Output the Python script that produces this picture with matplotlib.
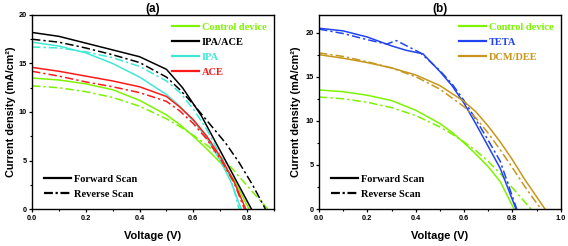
import matplotlib
matplotlib.use("Agg")
import matplotlib.pyplot as plt
from matplotlib.lines import Line2D
from matplotlib.ticker import MultipleLocator

plt.rcParams['font.family'] = ['Liberation Sans', 'DejaVu Sans']

# ---------------- Data (a) ----------------
ctrl_fwd_v = [0, 0.1, 0.2, 0.3, 0.4, 0.5, 0.55, 0.6, 0.65, 0.7, 0.75, 0.807]
ctrl_fwd_j = [13.5, 13.3, 12.9, 12.3, 11.2, 9.7, 8.7, 7.5, 6.2, 4.8, 3.1, 0.0]
ctrl_rev_v = [0, 0.1, 0.2, 0.3, 0.4, 0.5, 0.55, 0.6, 0.65, 0.7, 0.75, 0.8, 0.877]
ctrl_rev_j = [12.7, 12.5, 12.1, 11.5, 10.6, 9.3, 8.5, 7.6, 6.6, 5.4, 4.0, 2.4, 0.0]

ipaace_fwd_v = [0, 0.1, 0.2, 0.3, 0.4, 0.5, 0.56, 0.63, 0.7, 0.76, 0.816]
ipaace_fwd_j = [18.2, 17.8, 17.1, 16.4, 15.7, 14.4, 12.5, 9.6, 6.0, 2.9, 0.0]
ipaace_rev_v = [0, 0.1, 0.2, 0.3, 0.4, 0.5, 0.55, 0.6, 0.66, 0.72, 0.77, 0.82, 0.868]
ipaace_rev_j = [17.5, 17.2, 16.6, 15.9, 15.1, 13.6, 12.3, 10.8, 8.8, 6.8, 4.8, 2.5, 0.0]

ipa_fwd_v = [0, 0.1, 0.2, 0.3, 0.4, 0.5, 0.55, 0.6, 0.65, 0.7, 0.74, 0.778]
ipa_fwd_j = [17.2, 16.8, 16.1, 15.0, 13.6, 11.8, 10.6, 9.1, 7.3, 5.0, 2.8, 0.0]
ipa_rev_v = [0, 0.1, 0.2, 0.3, 0.4, 0.5, 0.55, 0.6, 0.65, 0.7, 0.74, 0.77]
ipa_rev_j = [16.7, 16.6, 16.2, 15.6, 14.7, 13.2, 12.0, 10.3, 8.2, 5.6, 3.2, 0.0]

ace_fwd_v = [0, 0.1, 0.2, 0.3, 0.4, 0.5, 0.55, 0.6, 0.65, 0.7, 0.75, 0.795]
ace_fwd_j = [14.6, 14.2, 13.7, 13.2, 12.6, 11.6, 10.5, 9.2, 7.5, 5.4, 2.9, 0.0]
ace_rev_v = [0, 0.1, 0.2, 0.3, 0.4, 0.5, 0.55, 0.6, 0.65, 0.7, 0.75, 0.79]
ace_rev_j = [14.2, 13.7, 13.1, 12.6, 12.0, 11.1, 10.1, 8.8, 7.2, 5.2, 2.8, 0.0]

# ---------------- Data (b) ----------------
teta_fwd_v = [0, 0.1, 0.2, 0.3, 0.36, 0.43, 0.5, 0.55, 0.6, 0.65, 0.7, 0.75, 0.815]
teta_fwd_j = [20.5, 20.2, 19.5, 18.5, 18.0, 17.6, 15.6, 14.0, 12.0, 9.6, 7.1, 4.6, 0.0]
teta_rev_v = [0, 0.1, 0.2, 0.28, 0.32, 0.42, 0.5, 0.55, 0.6, 0.65, 0.7, 0.75, 0.818]
teta_rev_j = [20.4, 19.9, 19.2, 18.7, 19.1, 17.7, 15.7, 14.2, 12.3, 10.1, 7.8, 5.4, 0.0]

dcm_fwd_v = [0, 0.1, 0.2, 0.3, 0.4, 0.5, 0.6, 0.65, 0.7, 0.75, 0.8, 0.85, 0.9, 0.935]
dcm_fwd_j = [17.5, 17.1, 16.6, 16.0, 15.2, 14.0, 12.2, 11.0, 9.4, 7.6, 5.6, 3.4, 1.4, 0.0]
dcm_rev_v = [0, 0.1, 0.2, 0.3, 0.4, 0.5, 0.6, 0.65, 0.7, 0.75, 0.8, 0.85, 0.918]
dcm_rev_j = [17.7, 17.3, 16.7, 16.0, 15.0, 13.6, 11.6, 10.3, 8.6, 6.7, 4.7, 2.6, 0.0]

labels_a = ["Control device", "IPA/ACE", "IPA", "ACE"]
labels_b = ["Control device", "TETA", "DCM/DEE"]
scan_labels = ["Forward Scan", "Reverse Scan"]

GREEN = '#7CF400'
BLACK = '#000000'
CYAN = '#3FE8D6'
RED = '#FF1A1A'
BLUE = '#2244F0'
GOLD = '#C8961C'

DASHDOT = (0, (5.5, 2.0, 1.5, 2.0))
LW = 1.1

fig = plt.figure(figsize=(5.68, 2.46), dpi=100)
axa = fig.add_axes([32/568, 1-209/246, 242/568, 194/246])
axb = fig.add_axes([319/568, 1-209/246, 241.7/568, 194/246])

series_a = [
    (ctrl_fwd_v, ctrl_fwd_j, ctrl_rev_v, ctrl_rev_j, GREEN),
    (ipaace_fwd_v, ipaace_fwd_j, ipaace_rev_v, ipaace_rev_j, BLACK),
    (ipa_fwd_v, ipa_fwd_j, ipa_rev_v, ipa_rev_j, CYAN),
    (ace_fwd_v, ace_fwd_j, ace_rev_v, ace_rev_j, RED),
]
series_b = [
    (ctrl_fwd_v, ctrl_fwd_j, ctrl_rev_v, ctrl_rev_j, GREEN),
    (teta_fwd_v, teta_fwd_j, teta_rev_v, teta_rev_j, BLUE),
    (dcm_fwd_v, dcm_fwd_j, dcm_rev_v, dcm_rev_j, GOLD),
]

def draw(ax, series, labels, xmax, ymax, xmajor, title, ylab_x):
    for fv, fj, rv, rj, c in series:
        ax.plot(fv, fj, color=c, lw=LW, solid_joinstyle='round')
        ax.plot(rv, rj, color=c, lw=LW, linestyle=DASHDOT)
    ax.set_xlim(0, xmax)
    ax.set_ylim(0, ymax)
    ax.xaxis.set_major_locator(MultipleLocator(xmajor))
    ax.xaxis.set_minor_locator(MultipleLocator(0.1))
    ax.yaxis.set_major_locator(MultipleLocator(5))
    ax.yaxis.set_minor_locator(MultipleLocator(2.5))
    ax.xaxis.set_major_formatter(matplotlib.ticker.FormatStrFormatter('%.1f'))
    ax.yaxis.set_major_formatter(matplotlib.ticker.FormatStrFormatter('%d'))
    ax.tick_params(which='major', direction='out', length=2.5, width=0.9,
                   labelsize=5.3, pad=1.5)
    ax.tick_params(which='minor', direction='out', length=1.5, width=0.8)
    for lab in ax.get_xticklabels() + ax.get_yticklabels():
        lab.set_fontweight('bold')
    for s in ax.spines.values():
        s.set_linewidth(1.0)
    ax.set_xlabel("Voltage (V)", fontsize=8, fontweight='bold', labelpad=7)
    ax.set_ylabel("Current density (mA/cm\u00b2)", fontsize=7.8,
                  fontweight='bold')
    ax.yaxis.set_label_coords(ylab_x, 0.5)
    ax.set_title(title, fontsize=8.5, fontweight='bold', pad=2)

    handles = [Line2D([], [], color=s[4], lw=1.6) for s in series]
    leg = ax.legend(handles, labels, loc='upper right', bbox_to_anchor=(1.0, 1.0),
                    frameon=False, handlelength=2.6, handletextpad=0.3,
                    labelspacing=0.55, borderaxespad=0.3,
                    prop={'family': 'Liberation Serif', 'weight': 'bold', 'size': 7.5})
    for txt, s in zip(leg.get_texts(), series):
        txt.set_color(s[4])
    ax.add_artist(leg)

    h2 = [Line2D([], [], color='k', lw=1.6),
          Line2D([], [], color='k', lw=1.6, linestyle=(0, (4.0, 1.2, 1.0, 1.2)))]
    ax.legend(h2, scan_labels, loc='lower left', bbox_to_anchor=(0.02, 0.015),
              frameon=False, handlelength=2.6, handletextpad=0.3,
              labelspacing=0.55, borderaxespad=0.3,
              prop={'family': 'Liberation Serif', 'weight': 'bold', 'size': 7.5})

draw(axa, series_a, labels_a, 0.9, 20, 0.2, "(a)", (16.5 - 32) / 242)
draw(axb, series_b, labels_b, 1.0, 22, 0.2, "(b)", (301 - 319) / 241.7)

fig.savefig("out.png", dpi=100)
